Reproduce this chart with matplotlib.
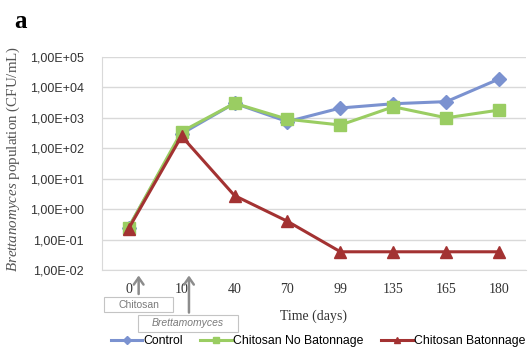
import matplotlib.pyplot as plt
from matplotlib.patches import Rectangle
import numpy as np

plt.rcParams['mathtext.fontset'] = 'custom'
plt.rcParams['mathtext.it'] = 'Liberation Serif:italic'
plt.rcParams['mathtext.rm'] = 'Liberation Serif'

# sampling days (shown as evenly spaced categories)
days = ['0', '10', '40', '70', '99', '135', '165', '180']

# Brettanomyces counts, CFU/mL
control = [0.25, 300, 3000, 750, 2100, 2900, 3400, 19000]
no_batonnage = [0.25, 350, 3000, 900, 580, 2300, 1000, 1800]
batonnage = [0.23, 250, 2.8, 0.4, 0.04, 0.04, 0.04, 0.04]

y_ticks = [1e-2, 1e-1, 1e0, 1e1, 1e2, 1e3, 1e4, 1e5]
y_labels = ['1,00E-02', '1,00E-01', '1,00E+00', '1,00E+01',
            '1,00E+02', '1,00E+03', '1,00E+04', '1,00E+05']

blue = '#7b92d0'
green = '#9acd62'
red = '#a33232'
grid_col = '#d9d9d9'

W, H = 529, 349
fig = plt.figure(figsize=(W / 100, H / 100), dpi=100)
ax = fig.add_axes([0.193, 0.226, 0.801, 0.611])

x = np.arange(len(days))
ax.plot(x, control, color=blue, lw=2.2, marker='D', ms=7.5, label='Control', zorder=3)
ax.plot(x, no_batonnage, color=green, lw=2.2, marker='s', ms=8, label='Chitosan No Batonnage', zorder=3)
ax.plot(x, batonnage, color=red, lw=2.2, marker='^', ms=9, label='Chitosan Batonnage', zorder=4)

ax.set_yscale('log')
ax.set_ylim(1e-2, 1e5)
ax.set_xlim(-0.5, len(days) - 0.5)
ax.set_yticks(y_ticks)
ax.set_yticklabels(y_labels, fontfamily='Liberation Sans', fontsize=9, color='#333333')
ax.minorticks_off()
ax.set_xticks(x)
ax.set_xticklabels(days, fontfamily='Liberation Serif', fontsize=10, color='#333333')
ax.tick_params(length=0, pad=9)
ax.tick_params(axis='y', pad=13)

ax.grid(axis='y', color=grid_col, lw=1)
for side in ['top', 'right']:
    ax.spines[side].set_visible(False)
for side in ['left', 'bottom']:
    ax.spines[side].set_color(grid_col)

ax.set_xlabel('Time (days)', fontfamily='Liberation Serif', fontsize=10, labelpad=10, color='#333333')
ax.set_ylabel(r'$\it{Brettanomyces}$ population (CFU/mL)', fontfamily='Liberation Serif',
              fontsize=10.8, color='#555555')
ax.yaxis.set_label_coords(-0.188, 0.52)

# arrows marking when chitosan and yeast were added
trans = ax.get_xaxis_transform()
arrow_kw = dict(arrowstyle='->,head_width=0.35,head_length=0.5', color='#8c8c8c', lw=1.8)
ax.annotate('', xy=(0.19, -0.012), xytext=(0.19, -0.125), xycoords=trans, textcoords=trans,
            arrowprops=arrow_kw, annotation_clip=False)
ax.annotate('', xy=(1.14, -0.012), xytext=(1.14, -0.212), xycoords=trans, textcoords=trans,
            arrowprops=arrow_kw, annotation_clip=False)


def label_box(x0, y0, x1, y1, text, italic=False):
    # box drawn in figure pixels, measured from the top-left corner
    fig.add_artist(Rectangle((x0 / W, 1 - y1 / H), (x1 - x0) / W, (y1 - y0) / H,
                             transform=fig.transFigure, fc='white', ec='#c4c4c4', lw=0.8, zorder=5))
    fig.text((x0 + x1) / 2 / W, 1 - (y0 + y1) / 2 / H, text, ha='center', va='center',
             fontsize=7.5, color='#7a7a7a', fontfamily='Liberation Sans',
             fontstyle='italic' if italic else 'normal', zorder=6)


label_box(104, 297, 173, 312, 'Chitosan')
label_box(138, 315, 238, 332, 'Brettamomyces', italic=True)

fig.legend(loc='center', bbox_to_anchor=(318 / W, 8 / H), ncol=3, frameon=False,
           prop={'family': 'Liberation Sans', 'size': 8.8}, handlelength=2.6, handletextpad=0.1,
           columnspacing=1.4, markerscale=0.55)

fig.text(0.027, 0.92, 'a', fontfamily='Liberation Serif', fontweight='bold', fontsize=18, va='baseline')

fig.savefig('out.png', dpi=100)
